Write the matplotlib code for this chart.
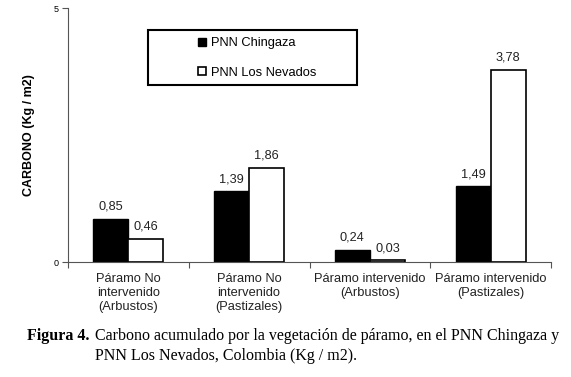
import matplotlib.pyplot as plt
from matplotlib.patches import Rectangle
import numpy as np

categorias = ["Páramo No\nintervenido\n(Arbustos)", "Páramo No\nintervenido\n(Pastizales)",
              "Páramo intervenido\n(Arbustos)", "Páramo intervenido\n(Pastizales)"]
chingaza = [0.85, 1.39, 0.24, 1.49]
nevados = [0.46, 1.86, 0.03, 3.78]
etiq_chingaza = ["0,85", "1,39", "0,24", "1,49"]
etiq_nevados = ["0,46", "1,86", "0,03", "3,78"]

plt.rcParams['font.family'] = ['Liberation Sans', 'DejaVu Sans']

fig = plt.figure(figsize=(5.71, 3.77), dpi=100)
ax = fig.add_axes([68/571, 1-262/377, (551-68)/571, (262-8)/377])

x = np.arange(len(categorias))
w = 0.29
ax.bar(x - w/2, chingaza, w, color='black', edgecolor='black', linewidth=1, label='PNN Chingaza')
ax.bar(x + w/2, nevados, w, color='white', edgecolor='black', linewidth=1.2, label='PNN Los Nevados')

for xi, v, t in zip(x - w/2, chingaza, etiq_chingaza):
    ax.text(xi, v + 0.12, t, ha='center', va='bottom', fontsize=9.2, color='#222222')
for xi, v, t in zip(x + w/2, nevados, etiq_nevados):
    ax.text(xi, v + 0.12, t, ha='center', va='bottom', fontsize=9.2, color='#222222')

ax.set_xlim(-0.5, 3.5)
ax.set_ylim(0, 5)
ax.set_yticks([0, 5])
ax.set_yticklabels(["0", "5"], fontsize=6.5)
ax.set_xticks([-0.5, 0.5, 1.5, 2.5, 3.5])
ax.set_xticklabels([])
ax.set_xticks(x, minor=True)
ax.set_xticklabels(categorias, minor=True, fontsize=9.3, color='#222222')
ax.tick_params(axis='x', which='minor', length=0, pad=8)
ax.tick_params(axis='x', which='major', length=4, direction='out', color='#555555')
ax.tick_params(axis='y', length=4, color='#555555', pad=3)
for s in ['top', 'right']:
    ax.spines[s].set_visible(False)
ax.spines['left'].set_color('#555555')
ax.spines['bottom'].set_color('#555555')

ax.set_ylabel("CARBONO (Kg / m2)", fontsize=9, fontweight='bold', labelpad=13)

# legend frame drawn separately, entries sit in the middle of it
fig.patches.append(Rectangle((148/571, 1-85/377), (357-148)/571, 55/377,
                             transform=fig.transFigure, facecolor='white',
                             edgecolor='black', linewidth=1.5, zorder=5))
leg = fig.legend(loc='center left', bbox_to_anchor=(192/571, 1-58/377),
                 fontsize=9.3, frameon=False, handlelength=0.6, handleheight=0.6,
                 labelspacing=1.35, handletextpad=0.35, borderpad=0)
leg.set_zorder(6)

serif = ['Liberation Serif', 'DejaVu Serif']
fig.text(90/571, 1-340/377, "Figura 4.", fontsize=11.5, fontweight='bold',
         family=serif, va='baseline', ha='right')
fig.text(95/571, 1-340/377, "Carbono acumulado por la vegetación de páramo, en el PNN Chingaza y",
         fontsize=11.5, family=serif, va='baseline')
fig.text(95/571, 1-360/377, "PNN Los Nevados, Colombia (Kg / m2).",
         fontsize=11.5, family=serif, va='baseline')

fig.savefig("out.png", dpi=100)
